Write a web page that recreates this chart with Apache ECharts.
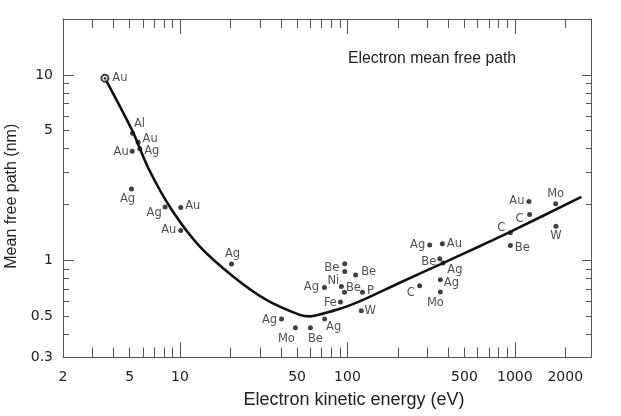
<!DOCTYPE html>
<html>
<head>
<meta charset="utf-8">
<script src="https://cdn.jsdelivr.net/npm/echarts@6/dist/echarts.min.js"></script>
<style>
html,body{margin:0;padding:0;background:#fff;}
#main{width:621px;height:416px;}
</style>
</head>
<body>
<div id="main"></div>
<script>
// measured points (eV, nm)
var energy = [3.56, 5.2, 5.62, 5.75, 5.18, 5.13, 8.15, 10.1, 10.1, 20.3,
	40.4, 48.9, 60.1, 73.1, 72.9, 92, 96.4, 96.4, 112, 96, 123, 90.8, 121,
	310, 369, 356, 372, 359, 270, 359,
	1214, 1225, 940, 940, 1753, 1760];
var mfp = [9.6, 4.84, 4.34, 4.0, 3.88, 2.43, 1.94, 1.93, 1.45, 0.956,
	0.484, 0.434, 0.434, 0.484, 0.715, 0.724, 0.96, 0.873, 0.834, 0.675, 0.675, 0.598, 0.535,
	1.21, 1.23, 1.02, 0.968, 0.787, 0.73, 0.677,
	2.08, 1.77, 1.41, 1.205, 2.02, 1.53];
var element = ['Au', 'Al', 'Au', 'Ag', 'Au', 'Ag', 'Ag', 'Au', 'Au', 'Ag',
	'Ag', 'Mo', 'Be', 'Ag', 'Ag', 'Ni', '', 'Be', 'Be', 'Be', 'P', 'Fe', 'W',
	'Ag', 'Au', 'Be', 'Ag', 'Ag', 'C', 'Mo',
	'Au', 'C', 'C', 'Be', 'Mo', 'W'];

// universal curve
var curveEnergy = [3.56, 5.2, 6.45, 8.9, 13.1, 20.75, 32.8, 51.9, 59.5, 82, 103.1, 129.8, 205.2, 372, 616.6, 931, 2495];
var curveMfp = [9.6, 4.98, 3.16, 1.88, 1.19, 0.82, 0.613, 0.509, 0.4995, 0.535, 0.573, 0.625, 0.758, 0.968, 1.193, 1.42, 2.2];

var xLabels = [2, 5, 10, 50, 100, 500, 1000, 2000];
var xMajor = [10, 100, 1000];
var xMinor = [3, 4, 5, 6, 7, 8, 9, 20, 30, 40, 50, 60, 70, 80, 90, 200, 300, 400, 500, 600, 700, 800, 900, 2000];
var yLabels = [0.3, 0.5, 1, 5, 10];
var yMajor = [1, 10];
var yMinor = [0.4, 0.5, 0.6, 0.7, 0.8, 0.9, 2, 3, 4, 5, 6, 7, 8, 9];

// label centre offsets from each dot (px)
var labelOffsets = [[15, 0], [7, -9], [12, -3], [12, 2], [-11, 1], [-4, 10], [-11, 6], [12, -1], [-12, 0], [1, -10],
	[-12, 1], [-9, 11], [5, 11], [9, 8], [-13, 0], [-8, -5], [0, 0], [-13, -3], [13, -3], [9, -4], [8, -1], [-10, 1], [9, 0],
	[-12, 0], [12, 0], [-11, 3], [12, 7], [11, 3], [-9, 7], [-5, 11],
	[-12, 0], [-10, 5], [-9, -5], [12, 3], [0, -10], [0, 10]];

var myChart = echarts.init(document.getElementById('main'));

var lineColor = '#555';
var tickFont = 'DejaVu Sans';

function xAx(pos, ticks, len, showLine, labels) {
	return {
		type: 'log',
		position: pos,
		min: 2,
		max: 2850,
		axisLine: { show: showLine, lineStyle: { color: lineColor, width: 1 } },
		axisTick: { show: true, inside: true, length: len, customValues: ticks, lineStyle: { color: lineColor, width: 1 } },
		axisLabel: labels ? {
			show: true, customValues: labels, margin: 13,
			color: '#222', fontFamily: tickFont, fontSize: 14,
			formatter: function(v) { return String(v); }
		} : { show: false },
		splitLine: { show: false },
		minorTick: { show: false }
	};
}

function yAx(pos, ticks, len, showLine, labels) {
	return {
		type: 'log',
		position: pos,
		min: 0.3,
		max: 20,
		axisLine: { show: showLine, lineStyle: { color: lineColor, width: 1 } },
		axisTick: { show: true, inside: true, length: len, customValues: ticks, lineStyle: { color: lineColor, width: 1 } },
		axisLabel: labels ? {
			show: true, customValues: labels, margin: 10,
			color: '#222', fontFamily: tickFont, fontSize: 14,
			formatter: function(v) { return String(v); }
		} : { show: false },
		splitLine: { show: false },
		minorTick: { show: false }
	};
}

var xAxes = [
	xAx('bottom', xMajor, 15, true, xLabels),
	xAx('bottom', xMinor, 10, false, null),
	xAx('top', xMajor, 15, true, null),
	xAx('top', xMinor, 9, false, null)
];
xAxes[0].name = 'Electron kinetic energy (eV)';
xAxes[0].nameLocation = 'middle';
xAxes[0].nameGap = 34;
xAxes[0].nameTextStyle = { color: '#222', fontFamily: 'Liberation Sans', fontSize: 18, padding: [0, 0, 0, 54] };

var yAxes = [
	yAx('left', yMajor, 11, true, yLabels),
	yAx('left', yMinor, 6, false, null),
	yAx('right', yMajor, 9, true, null),
	yAx('right', yMinor, 5, false, null)
];
yAxes[0].name = 'Mean free path (nm)';
yAxes[0].nameLocation = 'middle';
yAxes[0].nameGap = 43;
yAxes[0].nameTextStyle = { color: '#222', fontFamily: 'Liberation Sans', fontSize: 16, padding: [0, 16, 0, 0] };

var points = [];
for (var i = 0; i < energy.length; i++) {
	var item = {
		value: [energy[i], mfp[i]],
		name: element[i],
		label: { offset: labelOffsets[i] }
	};
	if (i === 0) {
		item.symbol = 'emptyCircle';
		item.symbolSize = 7;
		item.itemStyle = { color: '#111', borderWidth: 1.3 };
	}
	points.push(item);
}

var curve = [];
for (var j = 0; j < curveEnergy.length; j++) {
	curve.push([curveEnergy[j], curveMfp[j]]);
}

var option = {
	backgroundColor: '#fff',
	animation: false,
	title: {
		text: 'Electron mean free path',
		left: 348,
		top: 51,
		padding: 0,
		textStyle: { color: '#222', fontFamily: 'Liberation Sans', fontSize: 15.75, fontWeight: 'normal' }
	},
	grid: {
		left: 63,
		right: 30,
		top: 19,
		bottom: 58.5,
		containLabel: false,
		outerBoundsMode: 'none'
	},
	xAxis: xAxes,
	yAxis: yAxes,
	series: [{
			type: 'line',
			data: curve,
			smooth: 0.25,
			showSymbol: false,
			lineStyle: { color: '#111', width: 2.6 },
			z: 2
		}, {
			type: 'scatter',
			data: points,
			symbol: 'circle',
			symbolSize: 5,
			itemStyle: { color: '#111' },
			label: {
				show: true,
				position: 'inside',
				align: 'center',
				verticalAlign: 'middle',
				formatter: '{b}',
				color: '#222',
				fontFamily: 'DejaVu Sans',
				fontSize: 11.5
			},
			z: 3
		}, {
			type: 'scatter',
			data: [[energy[0], mfp[0]]],
			symbol: 'circle',
			symbolSize: 2.5,
			itemStyle: { color: '#111' },
			z: 4
		}
	]
};
myChart.setOption(option);
</script>
</body>
</html>
